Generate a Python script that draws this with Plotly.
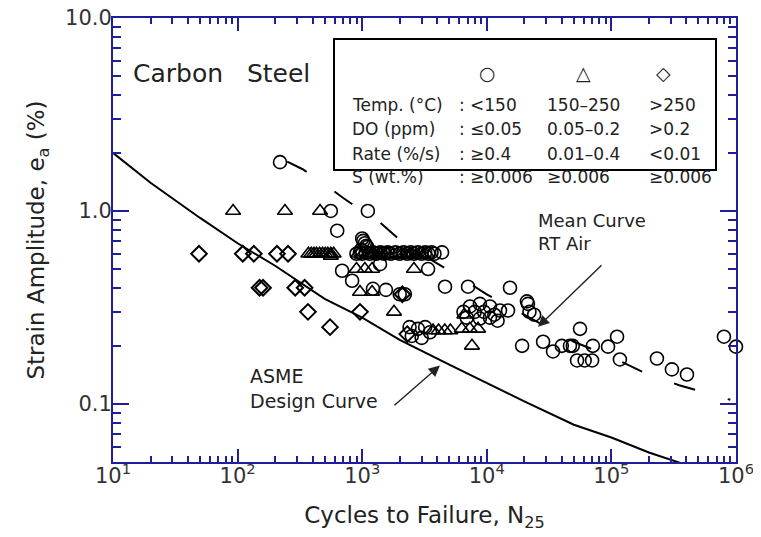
import plotly.graph_objects as go

# ASME design curve (carbon steel)
asme_n = [10, 20, 50, 100, 200, 500, 1000, 2000, 5000, 1e4, 2e4, 5e4, 1e5, 2e5, 5e5, 1e6]
asme_ea = [2.0, 1.4, 0.92, 0.68, 0.52, 0.35, 0.28, 0.215, 0.16, 0.128, 0.103, 0.078, 0.067, 0.056, 0.046, 0.042]

# mean curve, RT air
mean_n = [250, 330, 470, 700, 1000, 1340, 2200, 5300, 1e4, 2e4, 5e4, 1e5, 1.8e5, 3.5e5, 5.4e5, 9e5]
mean_ea = [1.80, 1.65, 1.42, 1.17, 1.0, 0.89, 0.67, 0.48, 0.37, 0.29, 0.21, 0.175, 0.146, 0.125, 0.115, 0.105]

# circles: <150 C
circ_n = [219, 560, 1110, 630, 1000, 1020, 1050, 1080, 1100, 980,
          900, 960, 1000, 1070, 1150, 1220, 1300, 1400, 1500, 1600, 1700, 1850, 2000,
          2150, 2300, 2450, 2600, 2800, 3000, 3200, 3400, 3600, 3800, 4370,
          690, 830, 1390, 3380, 1220, 1550, 2000, 2200, 4620, 7070, 15350,
          7330, 8800, 10600, 12760, 14800, 6900, 8800, 10600, 12200, 6500, 9500, 11500, 8000,
          21000, 21400, 22000, 24000,
          2400, 2800, 3200, 3500, 2500, 3000,
          19200, 56000, 28300, 34000, 40000, 46500, 49000, 53000, 61000, 70000, 71000,
          94000, 111000, 117000, 232000, 306000, 404000, 800000, 1000000]
circ_ea = [1.79, 1.0, 1.0, 0.79, 0.72, 0.70, 0.68, 0.66, 0.65, 0.63,
           0.6, 0.61, 0.6, 0.61, 0.6, 0.61, 0.6, 0.61, 0.6, 0.61, 0.6, 0.61, 0.6,
           0.61, 0.6, 0.61, 0.6, 0.61, 0.6, 0.61, 0.6, 0.61, 0.6, 0.61,
           0.49, 0.435, 0.53, 0.5, 0.395, 0.39, 0.37, 0.37, 0.405, 0.405, 0.40,
           0.32, 0.33, 0.32, 0.305, 0.305, 0.28, 0.277, 0.28, 0.27, 0.30, 0.30, 0.29, 0.30,
           0.34, 0.33, 0.30, 0.29,
           0.25, 0.245, 0.25, 0.235, 0.225, 0.22,
           0.2, 0.245, 0.21, 0.187, 0.2, 0.2, 0.2, 0.168, 0.168, 0.168, 0.2,
           0.198, 0.223, 0.17, 0.172, 0.151, 0.142, 0.223, 0.198]

# triangles: 150-250 C
tri_n = [92, 240, 459,
         370, 390, 410, 430, 455, 480, 505, 530, 560, 590, 560,
         930, 1000, 1100, 1180, 1250, 1330, 1400, 1500, 1600, 1750, 1900, 2050, 2200,
         2350, 2500, 2700, 2900, 3100, 3300,
         900, 1050, 1200, 2600,
         960, 1200, 1800,
         3700, 4100, 4600, 5100, 6300, 7300, 8500, 6600, 7600]
tri_ea = [1.0, 1.0, 1.0,
          0.6, 0.6, 0.6, 0.6, 0.6, 0.6, 0.6, 0.6, 0.6, 0.6, 0.585,
          0.6, 0.59, 0.6, 0.59, 0.6, 0.59, 0.6, 0.59, 0.6, 0.59, 0.6, 0.59, 0.6,
          0.59, 0.6, 0.59, 0.6, 0.59, 0.6,
          0.5, 0.5, 0.5, 0.5,
          0.38, 0.38, 0.3,
          0.24, 0.24, 0.24, 0.24, 0.245, 0.245, 0.245, 0.29, 0.2]

# diamonds: >250 C
dia_n = [49, 110, 135, 207, 254, 150, 160, 290, 345, 367, 552, 960, 2100, 2300]
dia_ea = [0.6, 0.6, 0.6, 0.6, 0.6, 0.4, 0.4, 0.4, 0.4, 0.3, 0.25, 0.3, 0.37, 0.23]

OFF = 8                      # page body margin of the browser
W, H = 761 - OFF, 537 - OFF
PW, PH = 623, 444            # plot area size
L, T = 113 - OFF, 18 - OFF
R, B = W - L - PW, H - T - PH
NAVY = "#1f1f9c"
FONT = "DejaVu Sans"


def px(x):
    # screen x -> paper
    return (x - OFF - L) / PW


def py(y):
    # screen y -> paper
    return (T + PH - (y - OFF)) / PH


fig = go.Figure()
fig.add_trace(go.Scatter(x=asme_n, y=asme_ea, mode="lines",
                         line=dict(color="black", width=2)))
fig.add_trace(go.Scatter(x=mean_n, y=mean_ea, mode="lines",
                         line=dict(color="black", width=2, dash="22px,34px")))

fig.add_trace(go.Scatter(x=circ_n, y=circ_ea, mode="markers", cliponaxis=False,
                         marker=dict(symbol="circle-open", color="black", size=13,
                                     line=dict(width=1.6))))
fig.add_trace(go.Scatter(x=tri_n, y=tri_ea, mode="markers", cliponaxis=False,
                         marker=dict(symbol="triangle-up-open", color="black", size=13,
                                     line=dict(width=1.6))))
fig.add_trace(go.Scatter(x=dia_n, y=dia_ea, mode="markers", cliponaxis=False,
                         marker=dict(symbol="diamond-open", color="black", size=12,
                                     line=dict(width=2))))

ann = []
txt = dict(xref="paper", yref="paper", showarrow=False, xanchor="left",
           font=dict(family=FONT, size=17, color="#222"))
ann.append(dict(txt, x=px(131), y=py(57), text="Carbon   Steel",
                font=dict(family=FONT, size=25, color="#222")))

# table inside the key box
for sym, xx in zip(["○", "△", "◇"], [487, 583, 663]):
    ann.append(dict(txt, x=px(xx), y=py(60), xanchor="center", text=sym,
                    font=dict(family=FONT, size=19, color="#222")))
rows = [("Temp. (°C)", "<150", "150–250", ">250"),
        ("DO (ppm)", "≤0.05", "0.05–0.2", ">0.2"),
        ("Rate (%/s)", "≥0.4", "0.01–0.4", "<0.01"),
        ("S (wt.%)", "≥0.006", "≥0.006", "≥0.006")]
for (lab, c1, c2, c3), yy in zip(rows, [93, 117, 142, 165]):
    for s, xx in zip([lab, ":", c1, c2, c3], [350, 457, 468, 545, 647]):
        ann.append(dict(txt, x=px(xx), y=py(yy), text=s))

ann.append(dict(txt, x=px(536), y=py(232), text="Mean Curve<br>RT Air", align="left",
                font=dict(family=FONT, size=18, color="#222")))
ann.append(dict(txt, x=px(248), y=py(414), text="ASME<br>Design Curve", align="left",
                font=dict(family=FONT, size=19, color="#222")))

# arrows
ann.append(dict(x=4.411, y=-0.6, xref="x", yref="y", ax=65, ay=-63, text="",
                showarrow=True, arrowhead=2, arrowsize=1.6, arrowwidth=1.4,
                arrowcolor="#222"))
ann.append(dict(x=3.624, y=-0.801, xref="x", yref="y", ax=-47, ay=41, text="",
                showarrow=True, arrowhead=2, arrowsize=1.6, arrowwidth=1.4,
                arrowcolor="#222"))

fig.update_layout(
    width=W, height=H,
    margin=dict(l=L, r=R, t=T, b=B),
    plot_bgcolor="white", paper_bgcolor="white",
    showlegend=False,
    font=dict(family=FONT, color="#333"),
    annotations=ann,
    shapes=[dict(type="rect", xref="paper", yref="paper",
                 x0=px(334), x1=px(716), y0=py(170), y1=py(39),
                 line=dict(color="black", width=2))],
)
axis = dict(showline=True, linecolor=NAVY, linewidth=2, mirror="allticks",
            ticks="inside", tickcolor=NAVY, tickwidth=1.5, showgrid=False,
            zeroline=False, automargin=False, ticklabeloverflow="allow",
            tickfont=dict(size=21, color="#333"),
            minor=dict(ticks="inside", tickcolor=NAVY, tickwidth=1.5,
                       dtick="D1", showgrid=False))
fig.update_xaxes(axis, type="log", range=[1, 6], ticklen=13,
                 tickvals=[1e1, 1e2, 1e3, 1e4, 1e5, 1e6],
                 ticktext=[f"10<sup>{k}</sup>" for k in range(1, 7)],
                 minor_ticklen=6, ticklabelstandoff=-6,
                 title=dict(text="Cycles to Failure, N<sub>25</sub>",
                            font=dict(size=23, color="#222"), standoff=20))
fig.update_yaxes(axis, type="log", range=[-1.301, 1], ticklen=16,
                 tickvals=[0.1, 1, 10], ticktext=["0.1", "1.0", "10.0"],
                 minor_ticklen=8, ticklabelstandoff=-5,
                 title=dict(text="Strain Amplitude, e<sub>a</sub> (%)",
                            font=dict(size=23, color="#222"), standoff=14))

fig.write_html("out.html")
